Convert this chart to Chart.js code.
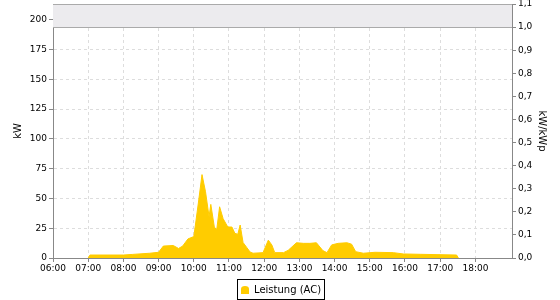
<!DOCTYPE html>
<html><head><meta charset="utf-8">
<script src="https://cdn.jsdelivr.net/npm/chart.js@4"></script>
<style>html,body{margin:0;padding:0;background:#fff}#wrap{width:560px;height:300px;position:relative}</style>
</head><body><div id="wrap"><canvas id="c" width="560" height="300"></canvas></div>
<script>
const times = ["07:00","07:03","08:00","08:15","08:45","09:00","09:08","09:25","09:34","09:41","09:50","10:00","10:02","10:08","10:14","10:20","10:26","10:29","10:35","10:39","10:44","10:50","10:58","11:05","11:10","11:15","11:19","11:24","11:30","11:36","11:41","11:58","12:07","12:13","12:18","12:33","12:41","12:55","13:07","13:18","13:29","13:40","13:47","13:55","14:06","14:21","14:29","14:36","14:49","15:09","15:40","15:57","16:26","17:28","17:31"];
const powerKW = [0,2.5,2.5,3.0,4.0,4.8,10,10.5,8,10,16,18,25,47,70,55.6,34.7,45,26,23.5,43,33,26,26,20.7,19.9,27.7,13,9,5,4,4.5,15,11,4.5,4.5,6.5,12.8,12.3,12.3,12.8,6.2,4.5,11,12.3,12.8,11.6,5.3,4,4.8,4.5,3.4,3.1,2.5,0];
const leftTicks = [0,25,50,75,100,125,150,175,200];
const rightTicks = [0,0.1,0.2,0.3,0.4,0.5,0.6,0.7,0.8,0.9,1.0,1.1];
const hourTicks = [6,7,8,9,10,11,12,13,14,15,16,17,18];
const kWp = 193.8;
const seriesLabel = "Leistung (AC)";

const toH = t => { const [h,m] = t.split(":").map(Number); return h + m/60; };
const pts = times.map((t,i) => ({x: toH(t), y: powerKW[i]}));
const FONT = "'DejaVu Sans', sans-serif";
Chart.defaults.font.family = FONT;
Chart.defaults.font.size = 9;
Chart.defaults.color = '#000';

const bandPlugin = {
  id: 'band',
  beforeDatasetsDraw(chart) {
    const {ctx, chartArea: a, scales} = chart;
    const yb = scales.y.getPixelForValue(kWp);
    ctx.save();
    ctx.fillStyle = '#ECEBEE';
    ctx.fillRect(a.left, a.top, a.right - a.left, yb - a.top);
    ctx.strokeStyle = '#AAAAAA';
    ctx.lineWidth = 1;
    ctx.beginPath();
    ctx.moveTo(a.left, Math.round(a.top) + 0.5); ctx.lineTo(a.right, Math.round(a.top) + 0.5);
    ctx.moveTo(a.left, Math.round(yb) + 0.5); ctx.lineTo(a.right, Math.round(yb) + 0.5);
    ctx.stroke();
    ctx.restore();
  },
  afterDraw(chart) {
    const ctx = chart.ctx;
    ctx.save();
    ctx.font = "10px " + FONT;
    const tw = ctx.measureText(seriesLabel).width;
    const w = Math.round(tw + 20), h = 20;
    const x0 = Math.round(280 - w/2) + 0.5, y0 = 279.5;
    ctx.fillStyle = '#fff';
    ctx.fillRect(x0, y0, w, h);
    ctx.strokeStyle = '#000';
    ctx.lineWidth = 1;
    ctx.strokeRect(x0, y0, w, h);
    // icon
    ctx.fillStyle = '#FFCC00';
    const ix = x0 + 3.5, iy = y0 + 6.5;
    ctx.beginPath();
    ctx.moveTo(ix, iy + 8);
    ctx.lineTo(ix, iy + 3);
    ctx.quadraticCurveTo(ix, iy, ix + 4, iy);
    ctx.quadraticCurveTo(ix + 8, iy, ix + 8, iy + 3);
    ctx.lineTo(ix + 8, iy + 8);
    ctx.closePath();
    ctx.fill();
    ctx.fillStyle = '#000';
    ctx.textBaseline = 'middle';
    ctx.fillText(seriesLabel, x0 + 16.5, y0 + h/2 + 0.5);
    ctx.restore();
  }
};

const vPad = s => { s.paddingTop = 4; s.paddingBottom = 0; };

new Chart(document.getElementById('c'), {
  type: 'line',
  data: { datasets: [{
    label: seriesLabel,
    data: pts,
    yAxisID: 'y',
    backgroundColor: '#FFCC00',
    borderColor: '#FFCC00',
    borderWidth: 1,
    fill: 'origin',
    pointRadius: 0,
    tension: 0
  }]},
  options: {
    responsive: false,
    animation: false,
    layout: { padding: { top: 0, bottom: 22, left: 0, right: 0 } },
    plugins: { legend: { display: false }, tooltip: { enabled: false } },
    scales: {
      x: {
        type: 'linear', min: 6, max: 19.04,
        afterBuildTicks: s => { s.ticks = hourTicks.map(v => ({value: v})); },
        afterFit: s => { s.height = 20; },
        ticks: { callback: v => String(v).padStart(2,'0') + ':00', padding: 1, maxRotation: 0, autoSkip: false },
        grid: { color: '#DDDDDD', tickLength: 4, tickColor: '#888' },
        border: { color: '#888888', dash: [3,3] }
      },
      y: {
        position: 'left', min: 0, max: kWp * 1.1,
        afterBuildTicks: s => { s.ticks = leftTicks.map(v => ({value: v})); },
        afterFit: s => { s.width = 53; vPad(s); },
        ticks: { padding: 2 },
        title: { display: true, text: 'kW', font: { size: 10 }, padding: { top: 12, bottom: 0 } },
        grid: { color: '#DDDDDD', tickLength: 4, tickColor: '#888' },
        border: { color: '#888888', dash: [3,3] }
      },
      y1: {
        position: 'right', min: 0, max: 1.1,
        afterBuildTicks: s => { s.ticks = rightTicks.map(v => ({value: v})); },
        afterFit: s => { s.width = 48; vPad(s); },
        ticks: { padding: 2, callback: v => v.toFixed(1).replace('.', ',') },
        title: { display: true, text: 'kW/kWp', font: { size: 10 }, padding: { top: 12, bottom: 0 } },
        grid: { drawOnChartArea: false, tickLength: 4, color: '#888' },
        border: { color: '#888888' }
      }
    }
  },
  plugins: [bandPlugin]
});
</script></body></html>
